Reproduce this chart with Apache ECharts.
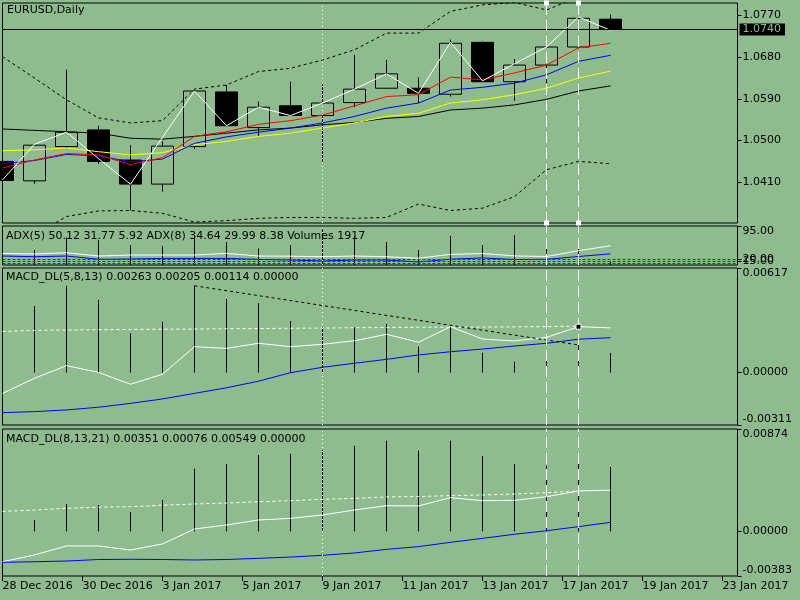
<!DOCTYPE html>
<html>
<head>
<meta charset="utf-8">
<title>EURUSD,Daily</title>
<script src="https://cdn.jsdelivr.net/npm/echarts@6/dist/echarts.min.js"></script>
<style>
    html, body { margin: 0; padding: 0; background: #8fbc8f; }
    #chart { width: 800px; height: 600px; }
</style>
</head>
<body>
<div id="chart"></div>
<script>
    // x axis: one unit per daily bar, labels every 2.5 bars
    var dateTicks = ['28 Dec 2016', '30 Dec 2016', '3 Jan 2017', '5 Jan 2017', '9 Jan 2017',
        '11 Jan 2017', '13 Jan 2017', '17 Jan 2017', '19 Jan 2017', '23 Jan 2017'];
    var tickStep = 2.5;

    // price panel
    var opens  = [1.0455, 1.0413, 1.0487, 1.0523, 1.0458, 1.0406, 1.0487, 1.0605, 1.0528, 1.0575,
                  1.0554, 1.0582, 1.0613, 1.0613, 1.0600, 1.0712, 1.0627, 1.0663, 1.0702, 1.0762];
    var closes = [1.0414, 1.0490, 1.0518, 1.0455, 1.0406, 1.0488, 1.0607, 1.0532, 1.0572, 1.0554,
                  1.0581, 1.0611, 1.0644, 1.0602, 1.0710, 1.0627, 1.0663, 1.0702, 1.0764, 1.0740];
    var lows   = [1.0412, 1.0407, 1.0484, 1.0450, 1.0349, 1.0390, 1.0482, 1.0531, 1.0509, 1.0553,
                  1.0452, 1.0572, 1.0612, 1.0581, 1.0595, 1.0627, 1.0586, 1.0624, 1.0700, 1.0739];
    var highs  = [1.0459, 1.0490, 1.0653, 1.0532, 1.0490, 1.0498, 1.0608, 1.0620, 1.0584, 1.0627,
                  1.0622, 1.0685, 1.0674, 1.0636, 1.0718, 1.0714, 1.0676, 1.0709, 1.0766, 1.0772];
    var whiteLine = [1.0415, 1.0492, 1.0518, 1.0461, 1.0406, 1.0507, 1.0607, 1.0532, 1.0572, 1.0554,
                     1.0581, 1.0611, 1.0644, 1.0602, 1.0712, 1.0629, 1.0666, 1.0702, 1.0767, 1.0738];
    var maRed    = [1.0441, 1.0458, 1.0472, 1.0469, 1.0448, 1.0463, 1.0509, 1.0519, 1.0535, 1.0543,
                    1.0555, 1.0575, 1.0595, 1.0599, 1.0637, 1.0631, 1.0646, 1.0663, 1.0700, 1.0710];
    var maBlue   = [1.0450, 1.0457, 1.0470, 1.0467, 1.0454, 1.0460, 1.0494, 1.0508, 1.0518, 1.0527,
                    1.0538, 1.0552, 1.0570, 1.0581, 1.0609, 1.0615, 1.0624, 1.0642, 1.0671, 1.0684];
    var maYellow = [1.0478, 1.0480, 1.0484, 1.0476, 1.0469, 1.0474, 1.0491, 1.0498, 1.0509, 1.0516,
                    1.0527, 1.0538, 1.0552, 1.0559, 1.0581, 1.0588, 1.0599, 1.0613, 1.0635, 1.0650];
    var maBlack  = [1.0525, 1.0522, 1.0519, 1.0516, 1.0505, 1.0503, 1.0509, 1.0516, 1.0523, 1.0527,
                    1.0534, 1.0539, 1.0548, 1.0552, 1.0566, 1.0570, 1.0577, 1.0589, 1.0607, 1.0618];
    var bandUp   = [1.0681, 1.0635, 1.0588, 1.0549, 1.0538, 1.0543, 1.0611, 1.0620, 1.0649, 1.0656,
                    1.0674, 1.0696, 1.0732, 1.0732, 1.0779, 1.0793, 1.0798, 1.0782, 1.0810, 1.0813];
    var bandDown = [1.0264, 1.0296, 1.0336, 1.0348, 1.0349, 1.0343, 1.0324, 1.0327, 1.0332, 1.0334,
                    1.0334, 1.0332, 1.0334, 1.0363, 1.0349, 1.0354, 1.0379, 1.0437, 1.0455, 1.0450];
    var priceTicks = [1.0410, 1.0500, 1.0590, 1.0680, 1.0770];

    // ADX / volumes panel
    var adxMain = [32.7, 31.4, 34.3, 26.8, 29.1, 29.1, 29.1, 32.7, 26.8, 26.4,
                   25.2, 26.8, 25.2, 21.8, 30.5, 32.5, 27.0, 25.7, 38.9, 50.12];
    var adxPlus = [26.8, 25.2, 26.8, 19.5, 20.0, 21.4, 21.4, 21.4, 19.1, 17.7,
                   15.5, 17.7, 17.7, 13.4, 19.5, 22.5, 18.9, 19.3, 25.7, 31.77];
    var volumes = [null, 8780, 16150, 14630, 11700, 11120, 16150, 13630, 9710, 11700,
                   21820, 17140, 13630, 8830, 17140, 11700, 17610, 15970, 13570, 1917];
    var adxLevels = [20, 15, 10];
    var adxTicks = [10, 15, 20, 95];

    // MACD_DL(5,8,13)
    var macd1Hist = [null, 0.00392, 0.00512, 0.00428, 0.00231, 0.00300, 0.00512, 0.00434, 0.00408, 0.00304,
                     0.00267, 0.00267, 0.00286, 0.00152, 0.00270, 0.00116, 0.00063, 0.00069, 0.00162, 0.00114];
    var macd1Main = [-0.00124, -0.00035, 0.00040, 0.00000, -0.00070, -0.00011, 0.00152, 0.00142, 0.00172, 0.00152,
                     0.00166, 0.00187, 0.00225, 0.00178, 0.00270, 0.00197, 0.00186, 0.00207, 0.00270, 0.00263];
    var macd1Signal = [-0.00238, -0.00232, -0.00222, -0.00206, -0.00183, -0.00157, -0.00124, -0.00091, -0.00052, -0.00002,
                       0.00030, 0.00054, 0.00077, 0.00103, 0.00122, 0.00138, 0.00156, 0.00172, 0.00196, 0.00205];
    var macd1Dash = [0.00242, 0.00248, 0.00251, 0.00252, 0.00254, 0.00255, 0.00256, 0.00258, 0.00259, 0.00261,
                     0.00262, 0.00264, 0.00265, 0.00267, 0.00267, 0.00268, 0.00269, 0.00271, 0.00273];
    var macd1Range = [-0.00311, 0.00617];

    // MACD_DL(8,13,21)
    var macd2Hist = [null, 0.00096, 0.00233, 0.00224, 0.00164, 0.00267, 0.00535, 0.00575, 0.00652, 0.00660,
                     0.00694, 0.00729, 0.00774, 0.00688, 0.00774, 0.00643, 0.00575, 0.00560, 0.00603, 0.00549];
    var macd2Main = [-0.00261, -0.00203, -0.00126, -0.00126, -0.00161, -0.00109, 0.00019, 0.00053, 0.00096, 0.00110,
                     0.00139, 0.00181, 0.00218, 0.00216, 0.00287, 0.00261, 0.00264, 0.00295, 0.00344, 0.00351];
    var macd2Signal = [-0.00266, -0.00261, -0.00255, -0.00242, -0.00240, -0.00242, -0.00246, -0.00242, -0.00232, -0.00221,
                       -0.00206, -0.00186, -0.00155, -0.00132, -0.00095, -0.00061, -0.00026, 0.00004, 0.00039, 0.00076];
    var macd2Dash = [0.00170, 0.00181, 0.00196, 0.00205, 0.00210, 0.00222, 0.00233, 0.00241, 0.00252, 0.00261,
                     0.00273, 0.00281, 0.00293, 0.00297, 0.00304, 0.00310, 0.00318, 0.00329, 0.00344];
    var macd2Range = [-0.00383, 0.00874];

    // chart objects
    var dottedBar = 10;
    var dashedBars = [17, 18];
    var trendFrom = 6, trendTo = 18;

    var BG = '#8fbc8f';
    var FONT = 'DejaVu Sans';
    var last = closes.length - 1;

    function pairs(arr) {
        return arr.map(function (v, i) { return [i, v]; });
    }

    var tickVals = dateTicks.map(function (d, i) { return i * tickStep; });

    var dottedStyle = { color: '#fff', type: [1, 3], width: 1 };
    var dashedStyle = { color: '#fff', type: [11, 5], width: 1 };

    // vertical object lines, repeated in every panel
    function vLines(which) {
        var items = [];
        if (which !== 'dashed') items.push({ xAxis: dottedBar, lineStyle: dottedStyle });
        if (which !== 'dotted') {
            dashedBars.forEach(function (b) {
                items.push({ xAxis: b, lineStyle: dashedStyle });
            });
        }
        return items;
    }

    function line(name, arr, color, xi, yi, dash) {
        return {
            name: name, type: 'line', xAxisIndex: xi, yAxisIndex: yi,
            data: pairs(arr), showSymbol: false, symbol: 'none', silent: true,
            lineStyle: { color: color, width: 1, type: dash || 'solid' },
            itemStyle: { color: color }
        };
    }

    function hist(name, arr, xi, yi) {
        return {
            name: name, type: 'bar', xAxisIndex: xi, yAxisIndex: yi,
            data: pairs(arr), barWidth: 1, silent: true,
            itemStyle: { color: '#000' }
        };
    }

    function marks(data, sym) {
        return {
            silent: true, animation: false, precision: 6,
            symbol: sym || 'none', symbolSize: 5,
            label: { show: false },
            data: data
        };
    }

    function xAx(i) {
        return {
            type: 'value', gridIndex: i, min: 0, max: 735 / 32,
            show: i === 3,
            axisLine: { show: false, onZero: false },
            splitLine: { show: false },
            axisTick: { show: true, customValues: tickVals, length: 5, lineStyle: { color: '#000' } },
            axisLabel: {
                customValues: tickVals, align: 'left', margin: 5,
                color: '#000', fontSize: 11, fontFamily: FONT,
                formatter: function (v) { return dateTicks[Math.round(v / tickStep)]; }
            }
        };
    }

    function yAx(i, min, max, ticks, digits) {
        return {
            type: 'value', gridIndex: i, position: 'right', min: min, max: max,
            axisLine: { show: false, onZero: false },
            splitLine: { show: false },
            axisTick: { show: true, customValues: ticks, length: 4, lineStyle: { color: '#000' } },
            axisLabel: {
                customValues: ticks, margin: 5, color: '#000', fontSize: 11, fontFamily: FONT,
                verticalAlignMinLabel: min === ticks[0] ? 'bottom' : null,
                verticalAlignMaxLabel: max === ticks[ticks.length - 1] ? 'top' : null,
                formatter: function (v) { return v.toFixed(digits); }
            }
        };
    }

    var gridBase = { left: 2.5, width: 735, show: true, borderColor: '#000', borderWidth: 1,
        backgroundColor: 'transparent', containLabel: false, outerBoundsMode: 'none' };

    var titleStyle = { fontSize: 11, fontWeight: 'normal', color: '#000', fontFamily: FONT };

    var chart = echarts.init(document.getElementById('chart'), null, { renderer: 'canvas' });

    var option = {
        backgroundColor: BG,
        animation: false,
        textStyle: { fontFamily: FONT },
        title: [
            { text: 'EURUSD,Daily', left: 7, top: 5, padding: 0, textStyle: titleStyle },
            { text: 'ADX(5) ' + adxMain[last].toFixed(2) + ' ' + adxPlus[last].toFixed(2) +
                    ' 5.92 ADX(8) 34.64 29.99 8.38 Volumes ' + volumes[last],
              left: 6, top: 231, padding: 0, textStyle: titleStyle },
            { text: 'MACD_DL(5,8,13) ' + macd1Main[last].toFixed(5) + ' ' + macd1Signal[last].toFixed(5) +
                    ' ' + macd1Hist[last].toFixed(5) + ' 0.00000',
              left: 6, top: 272, padding: 0, textStyle: titleStyle },
            { text: 'MACD_DL(8,13,21) ' + macd2Main[last].toFixed(5) + ' ' + macd2Signal[last].toFixed(5) +
                    ' ' + macd2Hist[last].toFixed(5) + ' 0.00000',
              left: 6, top: 434, padding: 0, textStyle: titleStyle }
        ],
        grid: [
            Object.assign({ top: 3, height: 220 }, gridBase),
            Object.assign({ top: 226, height: 39 }, gridBase),
            Object.assign({ top: 268, height: 157 }, gridBase),
            Object.assign({ top: 429, height: 147 }, gridBase)
        ],
        xAxis: [xAx(0), xAx(1), xAx(2), xAx(3)],
        yAxis: [
            yAx(0, 1.0322, 1.0797, priceTicks, 4),
            { type: 'value', gridIndex: 1, min: 0, max: 23000, show: false },
            yAx(1, 6.4, 95, adxTicks, 2),
            yAx(2, macd1Range[0], macd1Range[1], [macd1Range[0], 0, macd1Range[1]], 5),
            yAx(3, macd2Range[0], macd2Range[1], [macd2Range[0], 0, macd2Range[1]], 5)
        ],
        series: [
            // ---- price panel
            line('upper band', bandUp, '#000', 0, 0, [3, 3]),
            line('lower band', bandDown, '#000', 0, 0, [3, 3]),
            {
                name: 'EURUSD', type: 'candlestick', xAxisIndex: 0, yAxisIndex: 0,
                data: closes.map(function (c, i) { return [i, opens[i], c, lows[i], highs[i]]; }),
                encode: { x: 0, y: [1, 2, 3, 4] },
                barWidth: 23, clip: true, silent: true,
                itemStyle: { color: BG, color0: '#000', borderColor: '#000', borderColor0: '#000',
                    borderColorDoji: '#000', borderWidth: 1 },
                markLine: {
                    silent: true, symbol: 'none', animation: false, precision: 4,
                    lineStyle: { color: '#000', width: 1, type: 'solid' },
                    label: {
                        show: true, position: 'end', distance: 2,
                        backgroundColor: '#000', color: BG, fontSize: 11, fontFamily: FONT,
                        padding: [1, 4, 0, 3],
                        formatter: function (p) { return (+p.value).toFixed(4); }
                    },
                    data: [{ yAxis: closes[last] }]
                }
            },
            line('MA black', maBlack, '#000', 0, 0),
            line('MA yellow', maYellow, '#ffff00', 0, 0),
            line('MA blue', maBlue, '#0000ff', 0, 0),
            Object.assign(line('MA red', maRed, '#ff0000', 0, 0), {
                markLine: Object.assign(marks(vLines('dashed'), ['rect', 'rect']), {
                    itemStyle: { color: '#000', borderColor: '#fff', borderWidth: 1 }
                })
            }),
            Object.assign(line('close line', whiteLine, '#fff', 0, 0), {
                markLine: marks(vLines('dotted'))
            }),

            // ---- ADX panel
            hist('Volumes', volumes, 1, 1),
            Object.assign(line('ADX(5)', adxMain, '#fff', 1, 2), {
                markLine: marks(adxLevels.map(function (l) {
                    return { yAxis: l, lineStyle: { color: '#006400', type: [3, 2], width: 1 } };
                }).concat(vLines()))
            }),
            line('+DI(5)', adxPlus, '#0000ff', 1, 2),

            // ---- MACD_DL(5,8,13)
            Object.assign(hist('MACD1 hist', macd1Hist, 2, 3), {
                markLine: marks([[
                    { coord: [trendFrom, macd1Hist[trendFrom]], lineStyle: { color: '#000', type: [3, 3], width: 1 } },
                    { coord: [trendTo, macd1Hist[trendTo]] }
                ]].concat(vLines()))
            }),
            line('MACD1 level', macd1Dash, '#fff', 2, 3, [3, 3]),
            Object.assign(line('MACD1', macd1Main, '#fff', 2, 3), {
                markPoint: {
                    silent: true, animation: false, symbol: 'rect', symbolSize: 5, label: { show: false },
                    itemStyle: { color: '#000', borderColor: '#fff', borderWidth: 1 },
                    data: [{ coord: [trendTo, macd1Main[trendTo]] }]
                }
            }),
            line('MACD1 signal', macd1Signal, '#0000ff', 2, 3),

            // ---- MACD_DL(8,13,21)
            Object.assign(hist('MACD2 hist', macd2Hist, 3, 4), {
                markLine: marks(vLines())
            }),
            line('MACD2 level', macd2Dash, '#fff', 3, 4, [3, 3]),
            line('MACD2', macd2Main, '#fff', 3, 4),
            line('MACD2 signal', macd2Signal, '#0000ff', 3, 4)
        ]
    };

    chart.setOption(option);
</script>
</body>
</html>
